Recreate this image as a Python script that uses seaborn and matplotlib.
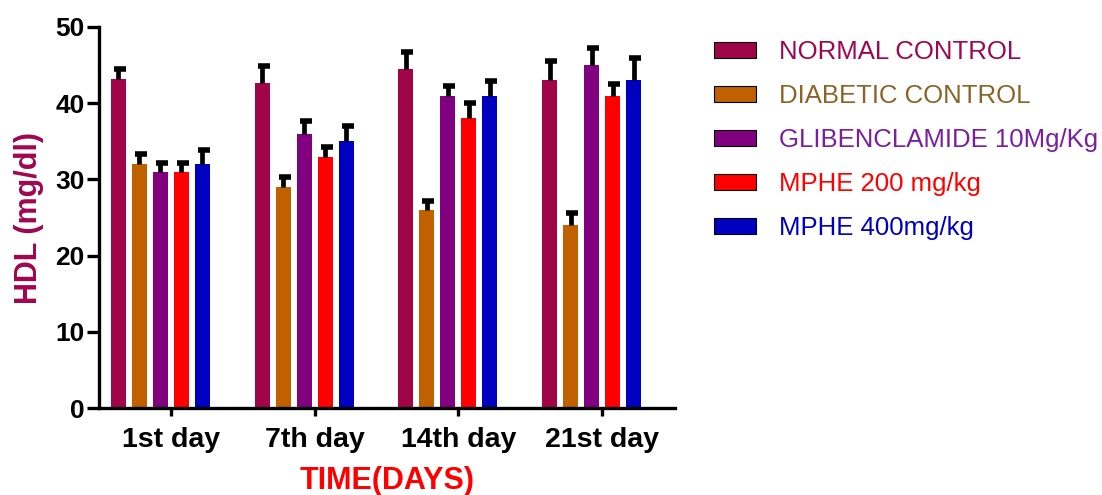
import numpy as np
import pandas as pd
import matplotlib
matplotlib.use("Agg")
import matplotlib.pyplot as plt
import seaborn as sns

# HDL (mg/dl) over the treatment period, mean and SEM per group
days = ["1st day", "7th day", "14th day", "21st day"]
groups = ["NORMAL CONTROL", "DIABETIC CONTROL", "GLIBENCLAMIDE 10Mg/Kg",
          "MPHE 200 mg/kg", "MPHE 400mg/kg"]

normal_control = [43.2, 42.7, 44.5, 43.0]
diabetic_control = [32.0, 29.0, 26.0, 24.0]
glibenclamide = [31.0, 36.0, 41.0, 45.0]
mphe_200 = [31.0, 33.0, 38.0, 41.0]
mphe_400 = [32.0, 35.0, 41.0, 43.0]

normal_sem = [1.3, 2.2, 2.2, 2.5]
diabetic_sem = [1.3, 1.3, 1.2, 1.6]
glibenclamide_sem = [1.1, 1.7, 1.3, 2.3]
mphe_200_sem = [1.2, 1.2, 2.0, 1.5]
mphe_400_sem = [1.9, 2.0, 1.9, 2.9]

yticks = [0, 10, 20, 30, 40, 50]

bar_colors = ["#A0054A", "#C06000", "#800080", "#FF0000", "#0000C0"]
label_colors = ["#A0064F", "#8B6428", "#7B1FA2", "#FF0000", "#0000C0"]

means = [normal_control, diabetic_control, glibenclamide, mphe_200, mphe_400]
sems = [normal_sem, diabetic_sem, glibenclamide_sem, mphe_200_sem, mphe_400_sem]

df = pd.DataFrame({
    "day": np.repeat([days], len(groups), axis=0).ravel(),
    "group": np.repeat(groups, len(days)),
    "hdl": np.concatenate(means),
})

sns.set_theme(style="ticks")
plt.rcParams["font.family"] = ["Liberation Sans", "DejaVu Sans"]

fig = plt.figure(figsize=(11.02, 4.95), dpi=100)
ax = fig.add_axes([99 / 1102, 1 - 408 / 495, (675 - 99) / 1102, (408 - 27) / 495])

sns.barplot(data=df, x="day", y="hdl", hue="group", order=days, hue_order=groups,
            palette=bar_colors, width=0.73, gap=0.29, errorbar=None,
            saturation=1, linewidth=0, ax=ax)

# upper-only SEM whiskers on each bar
for container, errs in zip(ax.containers, sems):
    for bar, e in zip(container, errs):
        x = bar.get_x() + bar.get_width() / 2
        top = bar.get_height()
        ax.vlines(x, top, top + e, color="black", lw=3.4, zorder=3)
        ax.plot([x + 0.01], [top + e], marker="_", ms=8.5, mew=4,
                color="black", zorder=3)

ax.set_xlim(-0.427, 3.58)
ax.set_ylim(0, 50)
ax.set_yticks(yticks)
ax.set_yticklabels([str(v) for v in yticks])
ax.set_xticks([i + 0.073 for i in range(len(days))])
ax.set_xticklabels(days)

for side in ["top", "right"]:
    ax.spines[side].set_visible(False)
for side in ["left", "bottom"]:
    ax.spines[side].set_linewidth(2.4)
    ax.spines[side].set_color("black")

ax.tick_params(axis="y", length=8.5, width=2.4, pad=2, labelsize=19, colors="black")
ax.tick_params(axis="x", length=6, width=2.4, pad=8, labelsize=20.5, colors="black")
for lab in ax.get_xticklabels() + ax.get_yticklabels():
    lab.set_fontweight("bold")

ax.set_ylabel("HDL (mg/dl)", fontsize=22, fontweight="bold", color="#A0064F", labelpad=8)
ax.set_xlabel("TIME(DAYS)", fontsize=22, fontweight="bold", color="#FF0000", labelpad=9)

handles, labels = ax.get_legend_handles_labels()
for h in handles:
    h.set_edgecolor("black")
    h.set_linewidth(0.8)
leg = fig.legend(handles, labels, loc="upper left", bbox_to_anchor=(714 / 1102, 1 - 40 / 495),
                 frameon=False, fontsize=18.5, handlelength=1.63, handleheight=0.58,
                 handletextpad=0.9, labelspacing=0.78, borderaxespad=0, borderpad=0)
for txt, c in zip(leg.get_texts(), label_colors):
    txt.set_color(c)
if ax.get_legend() is not None:
    ax.get_legend().remove()

fig.savefig("out.png", dpi=100)
